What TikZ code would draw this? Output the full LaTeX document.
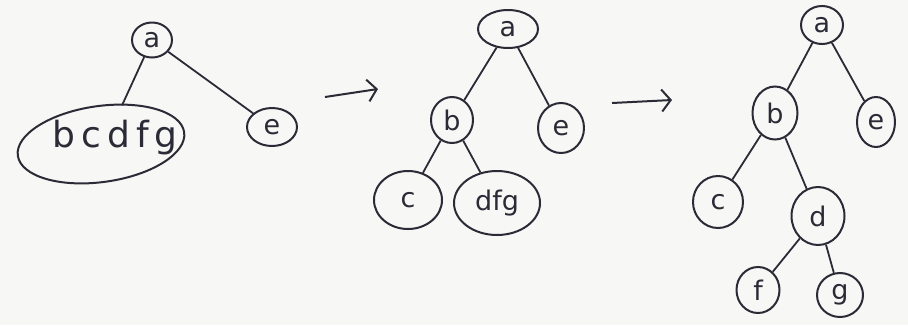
\documentclass[tikz,border=0pt]{standalone}
\usepackage{fontspec}
\setmainfont{DejaVu Sans}
\usetikzlibrary{shapes.geometric,arrows.meta}
\definecolor{ink}{HTML}{2B2B38}
\definecolor{paper}{HTML}{F7F7F5}
\tikzset{
  nd/.style={draw=ink, ellipse, line width=2pt, inner sep=0pt, text=ink,
    font=\fontsize{27}{29}\selectfont},
  ed/.style={draw=ink, line width=1.8pt},
  tr/.style={draw=ink, line width=2pt, -{Straight Barb[length=9pt,width=22pt,line width=2pt]}}
}
\begin{document}
\begin{tikzpicture}[x=1pt,y=-1pt]
\fill[paper] (0,0) rectangle (908,325);
\useasboundingbox (0,0) rectangle (908,325);
% tree 1
\node[nd, minimum width=40pt, minimum height=35pt] (a1) at (152,40) {a};
\node[nd, minimum width=168pt, minimum height=76pt, rotate=8] (bcdfg) at (101,144) {};
\node[text=ink, font=\fontsize{36}{38}\selectfont] (t1) at (115,138) {b\,c\,d\,f\,g};
\node[nd, minimum width=50pt, minimum height=38pt] (e1) at (272,127) {e};
\draw[ed] (a1) -- (bcdfg.north -| 122,0);
\draw[ed] (a1) -- (e1);
% arrow 1
\coordinate (s1) at (325,97);
\coordinate (s2) at (378,89);
\draw[tr] (s1) -- (s2);
% tree 2
\node[nd, minimum width=60pt, minimum height=38pt] (a2) at (508,29) {a};
\node[nd, minimum width=42pt, minimum height=46pt] (b2) at (452,120) {b};
\node[nd, minimum width=46pt, minimum height=50pt] (e2) at (561,128) {e};
\node[nd, minimum width=68pt, minimum height=58pt] (c2) at (408,200) {c};
\node[nd, minimum width=86pt, minimum height=64pt] (dfg) at (497,203) {dfg};
\draw[ed] (a2) -- (b2);
\draw[ed] (a2) -- (e2);
\draw[ed] (b2) -- (c2);
\draw[ed] (b2) -- (dfg);
% arrow 2
\coordinate (s3) at (612,103);
\coordinate (s4) at (672,100);
\draw[tr] (s3) -- (s4);
% tree 3
\node[nd, minimum width=42pt, minimum height=38pt] (a3) at (822,25) {a};
\node[nd, minimum width=45pt, minimum height=53pt] (b3) at (775,113) {b};
\node[nd, minimum width=38pt, minimum height=50pt] (e3) at (876,122) {e};
\node[nd, minimum width=50pt, minimum height=52pt] (c3) at (718,202) {c};
\node[nd, minimum width=53pt, minimum height=58pt] (d3) at (818,216) {d};
\node[nd, minimum width=43pt, minimum height=46pt] (f3) at (758,290) {f};
\node[nd, minimum width=46pt, minimum height=44pt] (g3) at (840,295) {g};
\draw[ed] (a3) -- (b3);
\draw[ed] (a3) -- (e3);
\draw[ed] (b3) -- (c3);
\draw[ed] (b3) -- (d3);
\draw[ed] (d3) -- (f3);
\draw[ed] (d3) -- (g3);
\end{tikzpicture}
\end{document}
